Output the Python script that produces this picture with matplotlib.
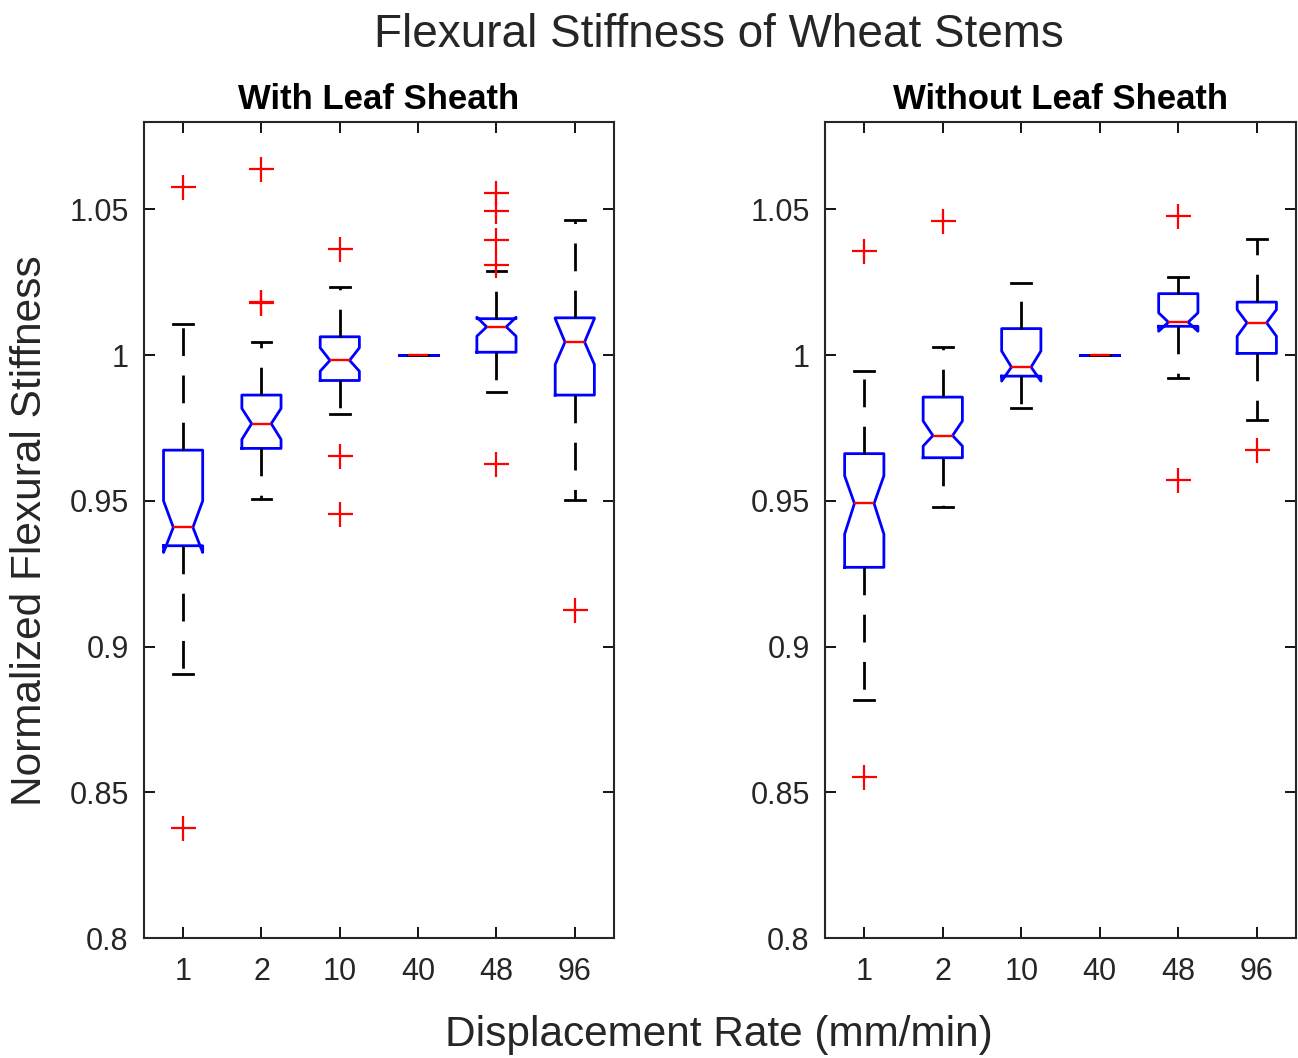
import matplotlib
matplotlib.use("Agg")
import matplotlib.pyplot as plt

plt.rcParams['font.family'] = ['Liberation Sans', 'DejaVu Sans']

rates = ['1', '2', '10', '40', '48', '96']
yticks = [0.8, 0.85, 0.9, 0.95, 1.0, 1.05]
ytick_labels = ['0.8', '0.85', '0.9', '0.95', '1', '1.05']

# summary stats per displacement rate, stems with leaf sheath
with_q1 = [0.9346, 0.9680, 0.9913, 1.0, 1.0010, 0.9863]
with_med = [0.9409, 0.9765, 0.9982, 1.0, 1.0097, 1.0045]
with_q3 = [0.9674, 0.9863, 1.0063, 1.0, 1.0125, 1.0128]
with_cilo = [0.9323, 0.9711, 0.9945, 1.0, 1.0065, 0.9968]
with_cihi = [0.9500, 0.9817, 1.0025, 1.0, 1.0130, 1.0125]
with_whislo = [0.8906, 0.9508, 0.9799, 1.0, 0.9874, 0.9502]
with_whishi = [1.0108, 1.0046, 1.0233, 1.0, 1.0288, 1.0462]
with_fliers = [
    [1.0576, 0.8378],
    [1.0638, 1.0178, 1.0182],
    [1.0365, 0.9654, 0.9454],
    [],
    [1.0558, 1.0493, 1.0394, 1.0311, 0.9628],
    [0.9126],
]

# summary stats per displacement rate, stems without leaf sheath
without_q1 = [0.9272, 0.9648, 0.9928, 1.0, 1.0099, 1.0006]
without_med = [0.9491, 0.9724, 0.9959, 1.0, 1.0113, 1.0111]
without_q3 = [0.9662, 0.9856, 1.0091, 1.0, 1.0211, 1.0182]
without_cilo = [0.9386, 0.9688, 0.9911, 1.0, 1.0082, 1.0065]
without_cihi = [0.9586, 0.9774, 1.0014, 1.0, 1.0145, 1.0156]
without_whislo = [0.8815, 0.9480, 0.9817, 1.0, 0.9922, 0.9777]
without_whishi = [0.9945, 1.0027, 1.0246, 1.0, 1.0268, 1.0400]
without_fliers = [
    [1.0356, 0.8553],
    [1.0459],
    [],
    [],
    [1.0476, 0.9572],
    [0.9674],
]


def make_stats(q1, med, q3, cilo, cihi, whislo, whishi, fliers):
    stats = []
    for i in range(len(rates)):
        stats.append(dict(q1=q1[i], med=med[i], q3=q3[i], cilo=cilo[i], cihi=cihi[i],
                          whislo=whislo[i], whishi=whishi[i], fliers=fliers[i],
                          label=rates[i]))
    return stats


panels = [
    ('With Leaf Sheath', make_stats(with_q1, with_med, with_q3, with_cilo, with_cihi,
                                    with_whislo, with_whishi, with_fliers)),
    ('Without Leaf Sheath', make_stats(without_q1, without_med, without_q3, without_cilo,
                                       without_cihi, without_whislo, without_whishi,
                                       without_fliers)),
]

text_col = '#262626'
fig = plt.figure(figsize=(12.98, 10.58), dpi=100)
axes = [fig.add_axes([0.1109, 0.1134, 0.3621, 0.7713]),
        fig.add_axes([0.6356, 0.1134, 0.3629, 0.7713])]

for ax, (title, stats) in zip(axes, panels):
    ax.bxp(stats, positions=range(1, 7), widths=0.5, shownotches=True,
           boxprops=dict(color='blue', linewidth=2.0),
           whiskerprops=dict(color='black', linewidth=2.0, linestyle=(0, (10, 7))),
           capprops=dict(color='black', linewidth=2.0),
           medianprops=dict(color='red', linewidth=1.7),
           flierprops=dict(marker='+', markeredgecolor='red', markersize=18,
                           markeredgewidth=1.6, linestyle='none'))
    ax.set_xlim(0.5, 6.5)
    ax.set_ylim(0.8, 1.08)
    ax.set_yticks(yticks)
    ax.set_yticklabels(ytick_labels)
    ax.set_xticks(range(1, 7))
    ax.set_xticklabels(rates)
    ax.tick_params(direction='in', length=8, width=1.3, top=True, right=True,
                   labelsize=22, labelcolor=text_col)
    ax.tick_params(axis='x', pad=14)
    ax.tick_params(axis='y', pad=11)
    for s in ax.spines.values():
        s.set_linewidth(1.5)
        s.set_color('#262626')
    ax.set_title(title, fontsize=25, fontweight='bold', color='black', pad=9)

fig.text(0.554, 0.967, 'Flexural Stiffness of Wheat Stems', ha='center', va='center',
         fontsize=33, color=text_col)
fig.text(0.554, 0.022, 'Displacement Rate (mm/min)', ha='center', va='center',
         fontsize=30.5, color=text_col)
fig.text(0.023, 0.498, 'Normalized Flexural Stiffness', ha='center', va='center',
         rotation=90, fontsize=30.5, color=text_col)

fig.savefig('out.png', dpi=100)
